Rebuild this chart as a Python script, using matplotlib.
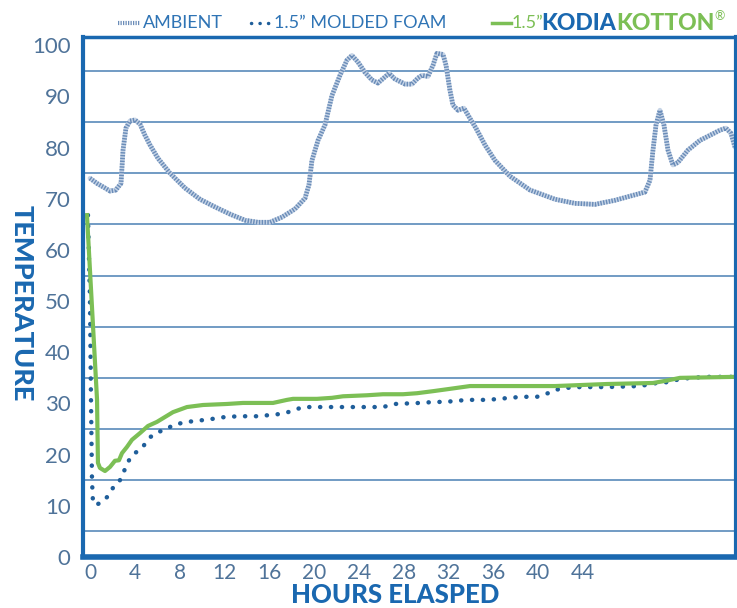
import matplotlib.pyplot as plt
from matplotlib.lines import Line2D

# Datos (horas, temperatura)
ambient_h = [0.0, 0.63, 1.34, 1.79, 2.3, 2.77, 2.95, 3.21, 3.57, 4.02, 4.46, 4.91, 5.36, 6.07,
             7.14, 8.48, 9.82, 11.16, 12.5, 13.84, 15.0, 16.07, 17.14, 18.3, 19.2, 19.55, 19.82,
             20.36, 20.98, 21.61, 22.32, 22.95, 23.39, 23.93, 24.55, 25.18, 25.71, 26.34, 26.7,
             27.23, 28.13, 28.75, 29.29, 29.64, 30.18, 30.63, 30.98, 31.52, 31.79, 32.14, 32.41,
             32.86, 33.39, 33.93, 34.46, 35.27, 36.16, 37.5, 39.29, 41.52, 43.3, 45.09, 46.88,
             48.21, 49.55, 50.0, 50.27, 50.54, 50.89, 51.25, 51.61, 52.05, 52.5, 53.39, 54.46,
             55.54, 56.25, 56.79, 57.23, 57.59]
ambient_t = [74.0, 73.0, 72.1, 71.5, 71.7, 73.0, 79.5, 83.8, 85.2, 85.4, 84.6, 82.4, 80.5, 77.9,
             75.0, 72.1, 69.9, 68.4, 67.0, 65.8, 65.4, 65.4, 66.4, 68.0, 70.1, 72.7, 77.5,
             81.4, 84.4, 90.2, 94.1, 97.1, 98.0, 96.7, 94.7, 93.2, 92.6, 93.8, 94.5,
             93.4, 92.4, 92.4, 93.6, 94.1, 93.9, 96.1, 98.4, 98.2, 96.1, 91.2, 88.3,
             87.3, 87.7, 85.7, 83.8, 80.5, 77.5, 74.4, 71.7, 69.9, 69.1, 68.9, 69.7,
             70.5, 71.3, 73.6, 79.5, 84.4, 87.3, 84.4, 79.5, 76.6, 77.1, 79.5, 81.4,
             82.6, 83.4, 83.8, 82.8, 80.1]

foam_h = [-0.18, 0.0, 0.09, 0.18, 0.27, 0.54, 1.07, 1.61, 2.05, 2.59, 3.21, 3.57, 4.02, 4.64,
          5.36, 6.07, 6.88, 7.41, 8.66, 9.55, 10.98, 11.88, 13.21, 15.0, 16.79, 17.68, 19.02,
          20.27, 22.05, 23.84, 26.16, 27.23, 29.46, 30.8, 31.7, 33.66, 35.54, 37.5, 38.57,
          39.91, 40.89, 41.52, 42.23, 43.75, 46.16, 49.11, 50.63, 51.79, 52.68, 54.91, 57.59]
foam_t = [66.8, 50.2, 30.7, 15.0, 10.5, 10.2, 10.7, 11.9, 13.5, 14.6, 17.6, 19.3, 20.3, 21.3,
          23.4, 24.4, 25.0, 25.8, 26.4, 26.6, 27.0, 27.3, 27.5, 27.5, 27.9, 28.3, 29.3,
          29.3, 29.3, 29.3, 29.3, 29.9, 30.1, 30.3, 30.3, 30.7, 30.7, 31.1, 31.3,
          31.3, 32.0, 32.6, 33.0, 33.2, 33.2, 33.4, 34.0, 34.2, 34.8, 35.2, 35.2]

kodia_h = [-0.27, 0.63, 0.71, 0.89, 1.34, 1.79, 2.23, 2.59, 2.86, 3.30, 3.75, 4.46, 5.18, 5.98,
           7.41, 8.66, 10.09, 12.23, 13.66, 15.18, 16.34, 17.59, 18.13, 20.27, 21.61, 22.59,
           24.73, 26.16, 27.95, 29.2, 30.63, 31.96, 33.93, 37.23, 41.52, 46.16, 50.27, 51.34,
           52.68, 57.59]
kodia_t = [66.8, 30.7, 18.4, 17.4, 16.8, 17.6, 18.8, 18.9, 20.3, 21.5, 22.9, 24.2, 25.6, 26.4,
           28.3, 29.3, 29.7, 29.9, 30.1, 30.1, 30.1, 30.7, 30.9, 30.9, 31.1, 31.4,
           31.6, 31.8, 31.8, 32.0, 32.4, 32.8, 33.4, 33.4, 33.4, 33.8, 34.0, 34.4,
           35.0, 35.2]

x_ticks = list(range(0, 45, 4))
y_ticks = list(range(0, 101, 10))

azul = '#1a68b0'
verde = '#7cbf55'
gris_azul = '#4f7399'

fig = plt.figure(figsize=(7.37, 6.08), dpi=100)
ax = fig.add_axes([0.1126, 0.0839, 0.886, 0.8552])

# Ambiente: linea rayada clara
ax.plot(ambient_h, ambient_t, color='#c6d4e6', lw=3.4, solid_capstyle='round')
ax.plot(ambient_h, ambient_t, color='#6a8cb8', lw=3.4, linestyle=(0, (0.3, 0.3)))
# Espuma moldeada: puntos
ax.plot(foam_h, foam_t, color='#1f5e9a', lw=3.2, linestyle=(0, (0.05, 2.4)),
        dash_capstyle='round')
# KodiaKotton: linea verde
ax.plot(kodia_h, kodia_t, color=verde, lw=3)

ax.set_xlim(-0.625, 57.68)
ax.set_ylim(0, 101.6)
ax.set_xticks(x_ticks)
ax.set_yticks(y_ticks)
ax.set_yticks(list(range(5, 100, 5)), minor=True)
ax.grid(True, which='minor', axis='y', color='#4a80b4', lw=1.1)
ax.tick_params(which='both', length=0)
ax.tick_params(axis='y', pad=9)
ax.tick_params(axis='x', pad=4)
for lab in ax.get_yticklabels():
    lab.set_fontfamily('Lato')
    lab.set_fontsize(16)
    lab.set_color(gris_azul)
for lab in ax.get_xticklabels():
    lab.set_fontfamily('Lato')
    lab.set_fontsize(15)
    lab.set_color(gris_azul)

for lado, ancho in [('left', 3), ('bottom', 4), ('top', 2.5), ('right', 3)]:
    ax.spines[lado].set_color(azul)
    ax.spines[lado].set_linewidth(ancho)

fig.text(22 / 737, 1 - 303 / 608, 'TEMPERATURE', rotation=270, ha='center', va='center',
         fontsize=19.5, fontweight='black', family='Lato', color=azul)
fig.text(395 / 737, 1 - 603 / 608, 'HOURS ELASPED', ha='center', va='baseline',
         fontsize=18.5, fontweight='black', family='Lato', color=azul)

# Leyenda manual en la parte superior
ly = 1 - 23 / 608
fig.add_artist(Line2D([118 / 737, 140 / 737], [ly, ly], color='#6a8cb8', lw=3,
                      linestyle=(0, (0.3, 0.3))))
fig.text(143 / 737, ly, 'AMBIENT', ha='left', va='center', fontsize=13,
         family='Lato', color='#2f74b5')
fig.add_artist(Line2D([251 / 737, 271 / 737], [ly, ly], color='#1f5e9a', lw=2.5,
                      linestyle=(0, (0.05, 2.4)), dash_capstyle='round'))
fig.text(274 / 737, ly, '1.5\u201d MOLDED FOAM', ha='left', va='center', fontsize=13,
         family='Lato', color='#2f74b5')
fig.add_artist(Line2D([492 / 737, 511 / 737], [ly, ly], color=verde, lw=2.5))
fig.text(512 / 737, ly, '1.5\u201d', ha='left', va='center', fontsize=13,
         family='Lato', color=verde)
t1 = fig.text(541 / 737, ly, 'KODIA', ha='left', va='center', fontsize=16.5,
              family='Lato', fontweight='black', color=azul)
t2 = fig.add_artist(plt.Annotation('KOTTON', xy=(1, 0.5), xycoords=t1, ha='left', va='center',
                                   fontsize=16.5, family='Lato', fontweight='black', color=verde))
fig.add_artist(plt.Annotation('\u00ae', xy=(1, 0.85), xycoords=t2, ha='left', va='center',
                              fontsize=9, family='Lato', color=verde))

plt.savefig('out.png', dpi=100)
